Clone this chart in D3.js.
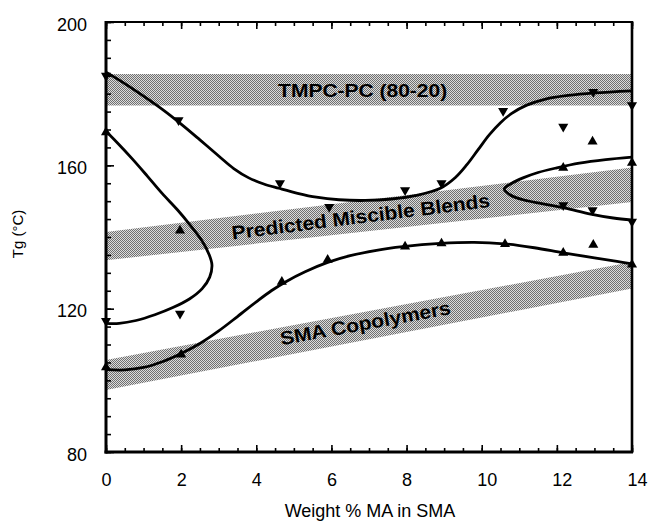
<!DOCTYPE html>
<html><head><meta charset="utf-8">
<script src="https://cdn.jsdelivr.net/npm/d3@7"></script>
<style>
body{margin:0;background:#fff}
svg{display:block}
text{font-family:"Liberation Sans",Arial,Helvetica,sans-serif;fill:#000}
</style>
</head><body>
<svg id="chart" width="653" height="523"></svg>
<script>
// ---------- data ----------
const xTicks = [0, 2, 4, 6, 8, 10, 12, 14];
const yTicks = [80, 120, 160, 200];
const xLabel = "Weight % MA in SMA";
const yLabel = "Tg (°C)";

// shaded bands: value at x=0 and x=14 for top and bottom edges
const bandLabels = ["TMPC-PC (80-20)", "Predicted Miscible Blends", "SMA Copolymers"];
const bandTop0    = [185.5, 141.4, 105.7];
const bandTop14   = [185.5, 159.4, 133.0];
const bandBottom0 = [176.7, 133.5, 97.3];
const bandBottom14= [176.7, 149.8, 125.6];

// fitted curves (x = wt% MA, y = Tg)
const curveUpper = [[0,186],[0.5,182.8],[1.0,179.3],[1.5,175.6],[2.0,171.5],[2.5,167.1],[3.0,162.6],[3.4,159.1],[3.8,156.5],[4.2,154.8],[4.6,153.6],[5.1,152.2],[5.6,151.1],[6.2,150.4],[6.9,150.2],[7.6,150.6],[8.3,151.7],[8.9,153.6],[9.3,156.6],[9.6,160.1],[9.9,164.3],[10.2,168.5],[10.5,171.9],[10.8,174.5],[11.2,176.8],[11.7,178.5],[12.3,179.5],[13.0,180.2],[14,180.8]];
const curveLeftLoop = [[0,169.5],[0.3,166.3],[0.7,161.8],[1.1,157.0],[1.5,152.1],[1.9,147.6],[2.25,143.2],[2.55,139.0],[2.74,135.2],[2.82,132.2],[2.76,128.8],[2.56,125.6],[2.22,122.7],[1.78,120.3],[1.3,118.3],[0.8,116.7],[0.35,115.9],[0,115.9]];
const curveRightLoop = [[14,162.3],[13.3,161.6],[12.6,160.6],[12.0,159.3],[11.5,158.0],[11.1,156.5],[10.8,155.0],[10.6,153.4],[10.75,151.8],[11.1,150.4],[11.6,149.3],[12.2,148.1],[12.9,146.4],[13.5,145.3],[14,144.7]];
const curveLower = [[0,103],[0.5,102.9],[1.0,103.6],[1.5,105.2],[2.0,107.5],[2.5,110.3],[3.0,113.8],[3.5,117.8],[4.0,121.9],[4.4,125.0],[4.8,127.6],[5.3,130.3],[5.9,132.9],[6.5,134.8],[7.2,136.3],[7.9,137.3],[8.9,138.2],[9.8,138.5],[10.6,138.1],[11.4,137.0],[12.17,135.6],[13.0,134.2],[13.6,133.2],[14,132.5]];

// measured points
const downX = [0, 1.93, 4.63, 5.94, 7.96, 8.93, 10.57, 12.17, 12.97, 14, 0, 1.97, 12.17, 12.95, 14];
const downY = [185, 172.6, 155, 148.4, 153.1, 155, 175.2, 170.8, 180.5, 176.8, 116.6, 118.6, 148.9, 147.5, 144.3];
const upX = [0, 1.97, 0, 2.0, 4.68, 5.9, 7.96, 8.93, 10.62, 12.17, 12.97, 14, 12.17, 12.95, 14];
const upY = [169.2, 141.8, 103.6, 107.2, 127.5, 133.6, 137.3, 138.2, 138, 135.6, 137.8, 132.3, 159.3, 166.6, 160.7];

// ---------- drawing ----------
const svg = d3.select("#chart");
const x = d3.scaleLinear().domain([0, 14]).range([106, 632]);
const y = d3.scaleLinear().domain([80, 200]).range([452, 22]);

const defs = svg.append("defs");
const pat = defs.append("pattern").attr("id", "dith").attr("width", 2).attr("height", 2)
  .attr("patternUnits", "userSpaceOnUse");
pat.append("rect").attr("width", 2).attr("height", 2).attr("fill", "#dcdcdc");
pat.append("rect").attr("width", 1).attr("height", 1).attr("fill", "#707070");
pat.append("rect").attr("x", 1).attr("y", 1).attr("width", 1).attr("height", 1).attr("fill", "#707070");
defs.append("clipPath").attr("id", "plotclip").append("rect")
  .attr("x", x(0)).attr("y", y(200)).attr("width", x(14) - x(0)).attr("height", y(80) - y(200));

// bands
const plot = svg.append("g").attr("clip-path", "url(#plotclip)");
bandLabels.forEach((lab, i) => {
  const pts = [[0, bandTop0[i]], [14, bandTop14[i]], [14, bandBottom14[i]], [0, bandBottom0[i]]];
  plot.append("path")
    .attr("d", "M" + pts.map(p => [x(p[0]), y(p[1])].join(",")).join("L") + "Z")
    .attr("fill", "url(#dith)");
});

// band labels
const labelSpecs = [
  {cx: 6.83, len: 169, rot: 0, dy: 0},
  {cx: 6.78, len: 260, rot: -7.2, dy: 0},
  {cx: 6.9, len: 173, rot: -10.4, dy: -3}
];
bandLabels.forEach((lab, i) => {
  const s = labelSpecs[i];
  const top = bandTop0[i] + (bandTop14[i] - bandTop0[i]) * s.cx / 14;
  const bot = bandBottom0[i] + (bandBottom14[i] - bandBottom0[i]) * s.cx / 14;
  const px = x(s.cx), py = y((top + bot) / 2) + s.dy;
  svg.append("text")
    .attr("transform", `translate(${px},${py}) rotate(${s.rot})`)
    .attr("text-anchor", "middle")
    .attr("dy", "0.36em")
    .attr("font-size", 19)
    .attr("font-weight", "bold")
    .attr("textLength", s.len)
    .attr("lengthAdjust", "spacingAndGlyphs")
    .text(lab);
});

// curves
const line = d3.line().x(d => x(d[0])).y(d => y(d[1])).curve(d3.curveCatmullRom.alpha(0.5));
[curveUpper, curveLeftLoop, curveRightLoop, curveLower].forEach(c => {
  svg.append("path").attr("d", line(c)).attr("fill", "none")
    .attr("stroke", "#000").attr("stroke-width", 2.8).attr("stroke-linejoin", "round");
});

// markers
const tri = d3.symbol().type(d3.symbolTriangle).size(44);
svg.append("g").selectAll("path").data(downX.map((v, i) => [v, downY[i]])).join("path")
  .attr("d", tri).attr("fill", "#000")
  .attr("transform", d => `translate(${x(d[0])},${y(d[1])}) rotate(180)`);
svg.append("g").selectAll("path").data(upX.map((v, i) => [v, upY[i]])).join("path")
  .attr("d", tri).attr("fill", "#000")
  .attr("transform", d => `translate(${x(d[0])},${y(d[1])})`);

// axes
const minorX = d3.range(0, 14.001, 0.5);
const minorY = d3.range(80, 200.001, 5);

svg.append("g").attr("transform", `translate(0,${y(80)})`)
  .call(d3.axisBottom(x).tickValues(minorX).tickSize(-4).tickFormat(""));
const gx = svg.append("g").attr("transform", `translate(0,${y(80)})`)
  .call(d3.axisBottom(x).tickValues(xTicks).tickSize(-7).tickPadding(21).tickFormat(d3.format("d")));
gx.selectAll("text").attr("font-size", 18).attr("text-anchor", "start").attr("x", -5);

svg.append("g").attr("transform", `translate(0,${y(200)})`)
  .call(d3.axisTop(x).tickValues(minorX).tickSize(-4).tickFormat(""));
svg.append("g").attr("transform", `translate(0,${y(200)})`)
  .call(d3.axisTop(x).tickValues(xTicks).tickSize(-7).tickFormat(""));

svg.append("g").attr("transform", `translate(${x(0)},0)`)
  .call(d3.axisLeft(y).tickValues(minorY).tickSize(-5).tickFormat(""));
const gy = svg.append("g").attr("transform", `translate(${x(0)},0)`)
  .call(d3.axisLeft(y).tickValues(yTicks).tickSize(-8).tickPadding(19).tickFormat(d3.format("d")));
gy.selectAll("text").attr("font-size", 18).attr("dy", "0.45em");

svg.selectAll(".domain").remove();
svg.selectAll(".tick line").attr("stroke", "#000").attr("stroke-width", 1.6);

// frame
svg.append("line").attr("x1", x(0)).attr("x2", x(14)).attr("y1", y(200)).attr("y2", y(200))
  .attr("stroke", "#000").attr("stroke-width", 2.2);
svg.append("line").attr("x1", x(14)).attr("x2", x(14)).attr("y1", y(200) - 1).attr("y2", y(80) + 1)
  .attr("stroke", "#000").attr("stroke-width", 2.6);
svg.append("line").attr("x1", x(0) - 1.5).attr("x2", x(14) + 1).attr("y1", y(80)).attr("y2", y(80))
  .attr("stroke", "#000").attr("stroke-width", 3);
svg.append("line").attr("x1", x(0)).attr("x2", x(0)).attr("y1", y(200) - 1).attr("y2", y(80) + 1.5)
  .attr("stroke", "#000").attr("stroke-width", 3);

// axis titles
svg.append("text").attr("x", 370).attr("y", 517).attr("text-anchor", "middle")
  .attr("font-size", 18).text(xLabel);
svg.append("text").attr("transform", "translate(23,234) rotate(-90)").attr("text-anchor", "middle")
  .attr("font-size", 15).text(yLabel);
</script>
</body></html>
